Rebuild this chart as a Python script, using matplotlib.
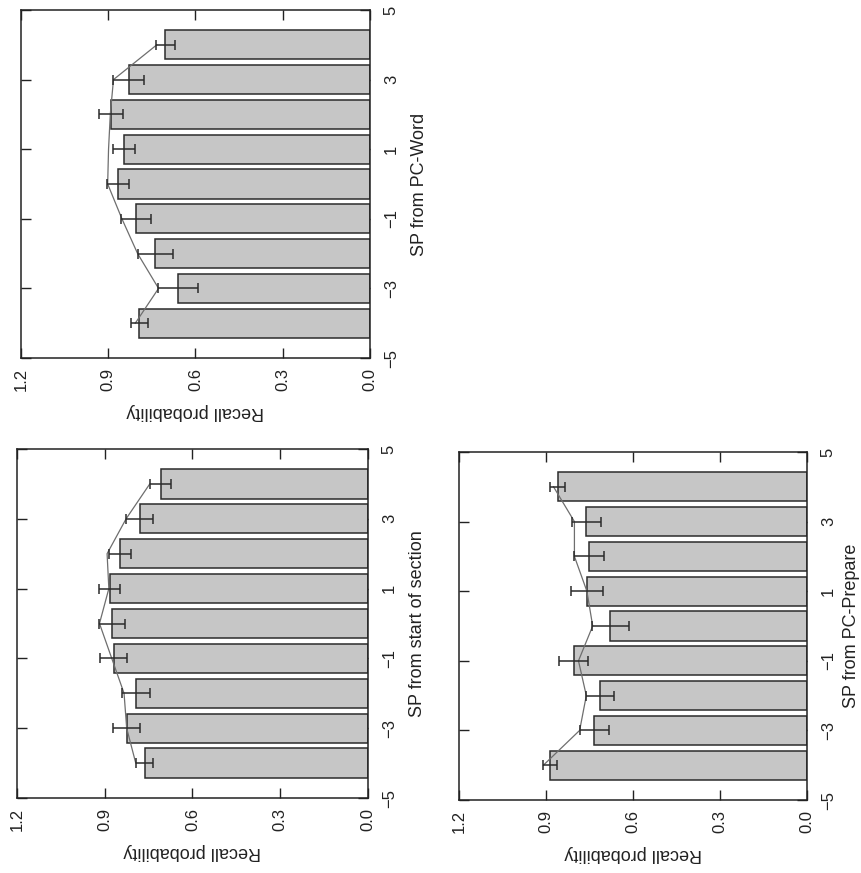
import matplotlib.pyplot as plt
from matplotlib.ticker import FormatStrFormatter

# serial position relative to the reference item
positions = [-4, -3, -2, -1, 0, 1, 2, 3, 4]

# SP from PC-Word
word_means = [0.793, 0.660, 0.738, 0.805, 0.867, 0.845, 0.891, 0.830, 0.704]
word_err = [0.028, 0.068, 0.061, 0.052, 0.037, 0.038, 0.040, 0.052, 0.032]
word_line = [0.807, 0.727, 0.799, 0.853, 0.902, 0.899, 0.893, 0.882, 0.733]

# SP from start of section
start_means = [0.764, 0.825, 0.794, 0.869, 0.875, 0.883, 0.849, 0.781, 0.709]
start_err = [0.030, 0.046, 0.047, 0.046, 0.043, 0.035, 0.038, 0.047, 0.036]
start_line = [0.794, 0.825, 0.834, 0.876, 0.918, 0.886, 0.892, 0.827, 0.746]

# SP from PC-Prepare
prep_means = [0.886, 0.733, 0.713, 0.805, 0.678, 0.759, 0.753, 0.761, 0.860]
prep_err = [0.025, 0.051, 0.048, 0.051, 0.065, 0.054, 0.052, 0.050, 0.026]
prep_line = [0.909, 0.784, 0.761, 0.788, 0.739, 0.759, 0.802, 0.802, 0.874]

value_ticks = [0.0, 0.3, 0.6, 0.9, 1.2]
sp_ticks = [-5, -3, -1, 1, 3, 5]

plt.rcParams["font.family"] = ["Liberation Sans", "DejaVu Sans"]

W, H = 862, 873
fig = plt.figure(figsize=(W / 100, H / 100), dpi=100)


def panel(box, means, err, line, label, sp_pad=9):
    # box given in pixels: left, top, right, bottom
    l, t, r, b = box
    ax = fig.add_axes([l / W, 1 - b / H, (r - l) / W, (b - t) / H])
    # the page is turned on its side, so bars run horizontally
    ax.barh(positions, means, height=0.84, color="#c6c6c6",
            edgecolor="#2b2b2b", linewidth=1.1, zorder=2)
    ax.plot(line, positions, color="#6e6e6e", lw=0.9, zorder=3)
    ax.errorbar(means, positions, xerr=err, fmt="none", ecolor="#2b2b2b",
                elinewidth=1.1, capsize=3.5, capthick=1.1, zorder=4)
    ax.set_xlim(1.2, 0.0)
    ax.set_ylim(-5, 5)
    ax.set_xticks(value_ticks)
    ax.xaxis.set_major_formatter(FormatStrFormatter("%.1f"))
    ax.set_yticks(sp_ticks)
    ax.tick_params(axis="x", which="both", direction="in", top=True,
                   bottom=True, length=7, width=1, labelsize=12,
                   labelrotation=90, pad=7, colors="#222222")
    ax.tick_params(axis="y", which="both", direction="in", left=True,
                   right=True, labelleft=False, labelright=True, length=7,
                   width=1, labelsize=12, labelrotation=90, pad=10,
                   colors="#222222")
    for lab in ax.get_yticklabels():
        lab.set_va("center")
    for s in ax.spines.values():
        s.set_linewidth(1.1)
        s.set_color("#222222")
    ax.set_xlabel("Recall probability", rotation=180, fontsize=13,
                  labelpad=9, color="#222222")
    ax.yaxis.set_label_position("right")
    ax.set_ylabel(label, rotation=90, fontsize=13, labelpad=sp_pad,
                  color="#222222")
    return ax


panel((21, 10, 370, 358), word_means, word_err, word_line, "SP from PC-Word")
panel((17, 449, 368, 798), start_means, start_err, start_line,
      "SP from start of section")
panel((459, 452, 807, 800), prep_means, prep_err, prep_line,
      "SP from PC-Prepare", sp_pad=5)

fig.savefig("out.png", dpi=100, facecolor="white")
